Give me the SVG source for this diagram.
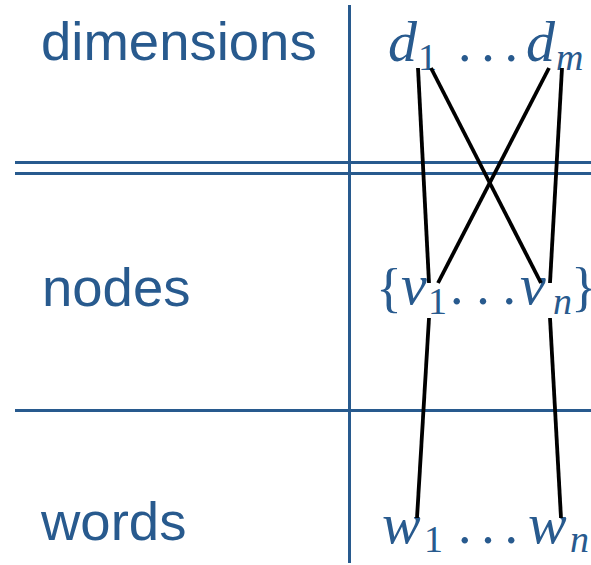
<svg xmlns="http://www.w3.org/2000/svg" width="591" height="565" viewBox="0 0 591 565">
<style>
.grid{stroke:#285a8e;stroke-width:3;fill:none}
.lbl{font-family:"Liberation Sans",Arial,sans-serif;font-size:54.5px;fill:#285a8e}
.m{font-family:"Liberation Serif","Times New Roman",serif;font-style:italic;font-size:58px;fill:#285a8e}
.s{font-family:"Liberation Serif","Times New Roman",serif;font-size:38px;fill:#285a8e}
.si{font-family:"Liberation Serif","Times New Roman",serif;font-style:italic;font-size:38px;fill:#285a8e}
.u{font-family:"Liberation Serif","Times New Roman",serif;font-size:54px;fill:#285a8e}
.c{stroke:#000;stroke-width:3.8;fill:none}
</style>
<rect width="591" height="565" fill="#fff"/>
<g id="grid">
<line class="grid" x1="349.5" y1="5" x2="349.5" y2="563"/>
<line class="grid" x1="15" y1="162.5" x2="591" y2="162.5"/>
<line class="grid" x1="15" y1="173.5" x2="591" y2="173.5"/>
<line class="grid" x1="15" y1="410.5" x2="591" y2="410.5"/>
</g>
<g id="row-labels">
<text class="lbl" x="41" y="60">dimensions</text>
<text class="lbl" x="42" y="306">nodes</text>
<text class="lbl" x="41" y="540">words</text>
</g>
<g id="dimensions">
<text class="m" x="388" y="61">d</text>
<text class="s" x="418" y="70">1</text>
<text class="u" x="458" y="61" textLength="60" lengthAdjust="spacing">...</text>
<text class="m" x="526" y="61">d</text>
<text class="si" x="556" y="70">m</text>
</g>
<g id="nodes">
<text class="u" x="376" y="306">{</text>
<text class="m" x="401" y="304">v</text>
<text class="s" x="428" y="314">1</text>
<text class="u" x="450" y="304" textLength="66" lengthAdjust="spacing">...</text>
<text class="m" x="520" y="304">v</text>
<text class="si" x="553" y="314">n</text>
<text class="u" x="571" y="305" font-size="40">}</text>
</g>
<g id="words">
<text class="m" x="382" y="543">w</text>
<text class="s" x="424" y="552">1</text>
<text class="u" x="458" y="543" textLength="60" lengthAdjust="spacing">...</text>
<text class="m" x="528" y="543">w</text>
<text class="si" x="570" y="552" font-size="34">n</text>
</g>
<g id="connectors">
<line class="c" x1="418" y1="68" x2="429" y2="283"/>
<line class="c" x1="431" y1="68" x2="541" y2="283"/>
<line class="c" x1="549" y1="68" x2="438" y2="283"/>
<line class="c" x1="562" y1="68" x2="550" y2="283"/>
<line class="c" x1="429" y1="318" x2="417" y2="518"/>
<line class="c" x1="550" y1="318" x2="561" y2="518"/>
</g>
</svg>
